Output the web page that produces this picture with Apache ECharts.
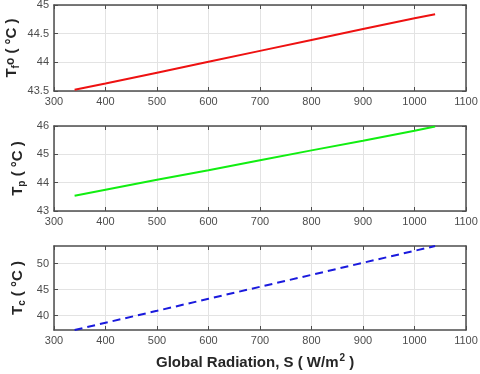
<!DOCTYPE html>
<html>
<head>
<meta charset="utf-8">
<script src="https://cdn.jsdelivr.net/npm/echarts@6/dist/echarts.min.js"></script>
<style>
  html, body { margin: 0; padding: 0; background: #fff; }
  #chart { width: 480px; height: 374px; }
</style>
</head>
<body>
<div id="chart"></div>
<script>
// global radiation S (W/m2)
var radiation = [340, 400, 500, 600, 700, 800, 900, 1000, 1040];
// fluid outlet temperature
var tfo = [43.52, 43.63, 43.82, 44.01, 44.20, 44.39, 44.58, 44.77, 44.84];
// plate temperature
var tp = [43.54, 43.75, 44.10, 44.44, 44.79, 45.14, 45.48, 45.83, 45.98];
// cell temperature
var tc = [37.2, 38.59, 40.90, 43.22, 45.53, 47.84, 50.16, 52.47, 53.4];
// tick labels of the cell temperature panel
var tcTicks = [40, 45, 50];

function pairs(ys) {
  return radiation.map(function (x, i) { return [x, ys[i]]; });
}

var axisColor = "#4d4d4d";
var gridColor = "#e3e3e3";
var labelFont = { color: "#4d4d4d", fontSize: 11, fontFamily: "Liberation Sans" };

var grids = [
  { left: 54, right: 14, top: 5, height: 86, outerBoundsMode: "none", containLabel: false },
  { left: 54, right: 14, top: 126, height: 85, outerBoundsMode: "none", containLabel: false },
  { left: 54, right: 14, top: 246, height: 84, outerBoundsMode: "none", containLabel: false }
];

var yRanges = [
  { min: 43.5, max: 45, interval: 0.5 },
  { min: 43, max: 46, interval: 1 },
  { min: 37.2, max: 53.4, ticks: tcTicks }
];

var yNames = [
  "{b|T}{s|f}{o|o}{b| ( °C )}",
  "{b|T}{s|p}{b| ( °C )}",
  "{b|T}{s|c}{b| ( °C )}"
];

var xAxes = [], yAxes = [];
grids.forEach(function (g, i) {
  xAxes.push({
    type: "value", gridIndex: i, min: 300, max: 1100, interval: 100,
    position: "bottom",
    axisLine: { lineStyle: { color: axisColor, width: 1.5 } },
    axisTick: { inside: true, length: 4, lineStyle: { color: axisColor } },
    axisLabel: Object.assign({ margin: 5, formatter: function (v) { return String(v); } }, labelFont),
    splitLine: { show: true, lineStyle: { color: gridColor } }
  });
  xAxes.push({
    type: "value", gridIndex: i, min: 300, max: 1100, interval: 100,
    position: "top",
    axisLine: { lineStyle: { color: axisColor, width: 1.5 } },
    axisTick: { inside: true, length: 4, lineStyle: { color: axisColor } },
    axisLabel: { show: false },
    splitLine: { show: false }
  });
  var r = yRanges[i];
  var yl = {
    type: "value", gridIndex: i, min: r.min, max: r.max,
    position: "left",
    axisLine: { show: true, lineStyle: { color: axisColor, width: 1.5 } },
    axisTick: { show: true, inside: true, length: 4, lineStyle: { color: axisColor } },
    axisLabel: Object.assign({ margin: 5, hideOverlap: false }, labelFont),
    splitLine: { show: true, lineStyle: { color: gridColor } },
    name: yNames[i],
    nameLocation: "middle",
    nameRotate: 90,
    nameGap: i === 0 ? 33 : 27,
    nameMoveOverlap: false,
    nameTextStyle: {
      rich: {
        b: { fontSize: 15, fontWeight: "bold", color: "#262626", fontFamily: "Liberation Sans" },
        s: { fontSize: 10, fontWeight: "bold", color: "#262626", fontFamily: "Liberation Sans", padding: [8, 0, 0, 0] },
        o: { fontSize: 12, fontWeight: "bold", color: "#262626", fontFamily: "Liberation Sans", padding: [0, 0, 2, 0] }
      }
    }
  };
  var yr = {
    type: "value", gridIndex: i, min: r.min, max: r.max,
    position: "right",
    axisLine: { show: true, lineStyle: { color: axisColor, width: 1.5 } },
    axisTick: { show: true, inside: true, length: 4, lineStyle: { color: axisColor } },
    axisLabel: { show: false },
    splitLine: { show: false }
  };
  if (r.interval) { yl.interval = r.interval; yr.interval = r.interval; }
  if (r.ticks) {
    yl.axisTick.customValues = r.ticks;
    yl.axisLabel.customValues = r.ticks;
    yr.axisTick.customValues = r.ticks;
  }
  yAxes.push(yl);
  yAxes.push(yr);
});

var chart = echarts.init(document.getElementById("chart"));
chart.setOption({
  animation: false,
  backgroundColor: "#fff",
  grid: grids,
  xAxis: xAxes,
  yAxis: yAxes,
  graphic: [{
    type: "text",
    left: 156,
    top: 353,
    style: {
      text: "{b|Global Radiation, S ( W/m}{sup|2}{b| )}",
      rich: {
        b: { fontSize: 15, fontWeight: "bold", fill: "#262626", fontFamily: "Liberation Sans" },
        sup: { fontSize: 10, fontWeight: "bold", fill: "#262626", fontFamily: "Liberation Sans", padding: [0, 0, 9, 1] }
      }
    }
  }],
  series: [
    {
      type: "line", xAxisIndex: 0, yAxisIndex: 0, data: pairs(tfo),
      showSymbol: false, lineStyle: { color: "#ee1111", width: 2 }
    },
    {
      type: "line", xAxisIndex: 2, yAxisIndex: 2, data: pairs(tp),
      showSymbol: false, lineStyle: { color: "#11ee11", width: 2 }
    },
    {
      type: "line", xAxisIndex: 4, yAxisIndex: 4, data: pairs(tc),
      showSymbol: false, lineStyle: { color: "#1a1add", width: 2, type: [8, 5] }
    }
  ]
});
</script>
</body>
</html>
